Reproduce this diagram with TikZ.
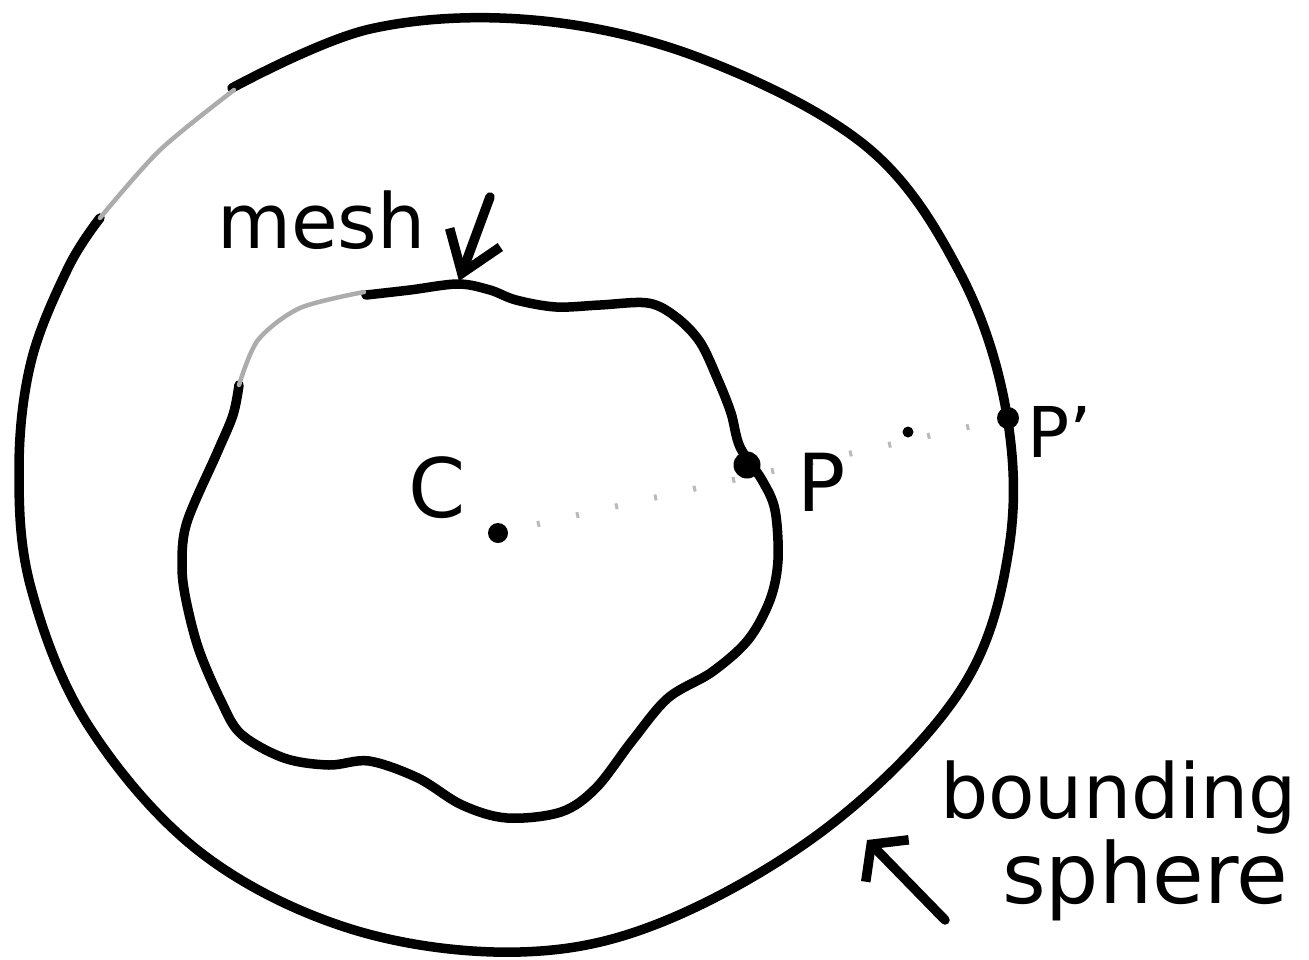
\documentclass[tikz,border=0pt]{standalone}
\usepackage{fontspec}
\setmainfont{DejaVu Sans}
\usetikzlibrary{arrows.meta, backgrounds}
\begin{document}
\begin{tikzpicture}[x=1pt, y=-1pt, line cap=round, line join=round,
    pen/.style={line width=9.5pt},
    faint/.style={line width=4.5pt, gray!65},
    ray/.style={line width=6pt, gray!55, dash pattern=on 3pt off 37pt},
    dot/.style={circle, fill=black, inner sep=0pt, minimum size=#1},
    hand/.style={inner sep=0pt, font=\fontsize{#1}{#1}\selectfont},
    pointer/.style 2 args={pen, -{Straight Barb[length=#1, width=#2]}}]
    \useasboundingbox (0,0) rectangle (1309,959);

    % bounding sphere
    \draw[pen] plot[smooth, tension=0.6] coordinates {
        (232,88) (370,29) (533,20) (700,58) (867,147) (960,273)
        (1006,410) (1009,548) (962,688) (833,823) (667,920) (520,952)
        (351,929) (200,852) (88,725) (31,588) (19,470) (31,362)
        (68,268) (100,218)};
    \draw[faint] plot[smooth] coordinates {(100,218) (160,150) (234,90)};

    % mesh
    \draw[pen] plot[smooth, tension=0.55] coordinates {
        (366,295) (410,290) (458,284) (490,290) (516,300) (556,307)
        (600,305) (648,303) (676,317) (700,342) (718,380) (731,413)
        (740,447) (762,480) (775,510) (778,560) (770,600) (748,640)
        (712,672) (668,698) (632,741) (596,788) (561,812) (507,818)
        (462,805) (418,778) (369,761) (329,765) (284,758) (241,734)
        (221,701) (199,650) (186,600) (182,565) (187,522) (217,453)
        (233,415) (239,385)};
    \draw[faint] plot[smooth] coordinates {(239,385) (258,340) (300,308) (364,292)};

    % ray from the centre
    \node[dot=20pt] (c) at (498,533) {};
    \node[dot=27pt] (p) at (747,465) {};
    \node[dot=22pt] (pp) at (1008,418) {};
    \node[dot=11pt] (mid) at (908,432) {};
    \begin{scope}[on background layer]
        \draw[ray] (c.center) -- (pp.center);
    \end{scope}

    \node[hand=82] (clabel) at (437,488) {C};
    \node[hand=80] (plabel) at (822,482) {P};
    \node[hand=70] (pplabel) at (1060,432) {P'};

    \node[hand=76, anchor=base west] (meshlabel) at (217,248) {mesh};
    \coordinate (meshtail) at (490,197);
    \coordinate (meshtip) at (459,281);
    \draw[pointer={38pt}{54pt}] (meshtail) -- (meshtip);

    \node[hand=76, anchor=base west] (bounding) at (940,818) {bounding};
    \node[hand=84, anchor=base west] (sphere) at (1002,903) {sphere};
    \coordinate (spheretail) at (945,920);
    \coordinate (spheretip) at (867,840);
    \draw[pointer={23pt}{60pt}] (spheretail) -- (spheretip);
\end{tikzpicture}
\end{document}
